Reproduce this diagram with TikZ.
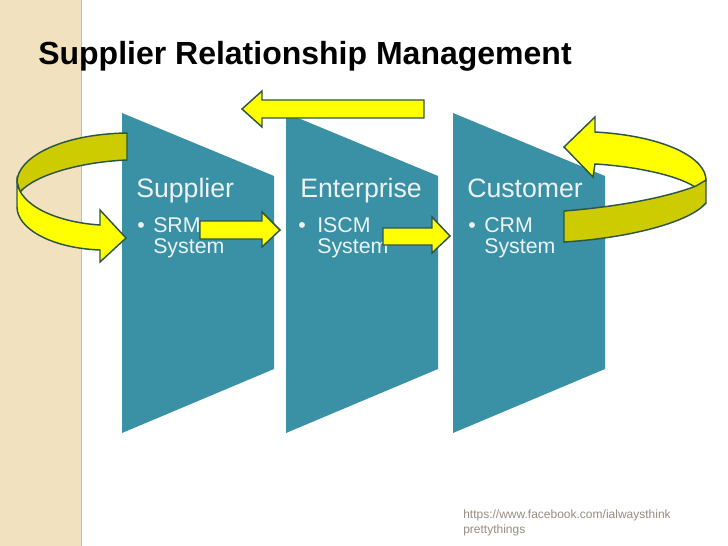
\documentclass[tikz,border=0pt]{standalone}
\usepackage{fontspec}
\setmainfont{Liberation Sans}
\usetikzlibrary{positioning}
\definecolor{strip}{RGB}{242,225,190}
\definecolor{stripedge}{RGB}{200,188,165}
\definecolor{panel}{RGB}{58,144,165}
\definecolor{paneltext}{RGB}{236,243,245}
\definecolor{arrowyellow}{RGB}{255,255,0}
\definecolor{arrowolive}{RGB}{204,204,0}
\definecolor{arrowline}{RGB}{47,85,70}
\definecolor{footgray}{RGB}{150,140,128}
\tikzstyle{head}=[anchor=base west,inner sep=0pt,text=paneltext,font=\fontsize{20}{24}\selectfont]
\tikzstyle{item}=[anchor=base west,inner sep=0pt,text=paneltext,font=\fontsize{16}{19}\selectfont]
\tikzstyle{foot}=[anchor=base west,inner sep=0pt,text=footgray,font=\fontsize{9}{11}\selectfont]
\tikzstyle{blockarrow}=[fill=arrowyellow,draw=arrowline,line width=1.1pt,line join=miter]
\tikzstyle{backband}=[blockarrow,fill=arrowolive]

\begin{document}
\begin{tikzpicture}[
        x=0.75pt,
        y=-0.75pt
        ]
        \useasboundingbox (0,0) rectangle (728,546);
        % beige strip on the left
        \fill[strip] (0,0) rectangle (81,546);
        \draw[stripedge,line width=1pt] (81.5,0) -- (81.5,546);

        \node[anchor=base west,inner sep=0pt,font=\fontsize{24}{28}\selectfont\bfseries] (title) at (38,64) {Supplier Relationship Management};

        % the three panels
        \foreach \x in {122,286,453}
            \fill[panel] (\x,113) -- ++(152,63) -- ++(0,193) -- ++(-152,64) -- cycle;

        \node[head] (sup) at (136,197) {Supplier};
        \node[item] (supdot) at (137,232) {•};
        \node[item] (srm) at (153,232) {SRM};
        \node[item] (srmsys) at (153,253) {System};

        \node[head] (ent) at (300,197) {Enterprise};
        \node[item] (entdot) at (298,232) {•};
        \node[item] (iscm) at (317,232) {ISCM};
        \node[item] (iscmsys) at (317,253) {System};

        \node[head] (cus) at (467,197) {Customer};
        \node[item] (cusdot) at (468,232) {•};
        \node[item] (crm) at (484,232) {CRM};
        \node[item] (crmsys) at (484,253) {System};

        \node[foot] (url) at (463,518) {https://www.facebook.com/ialwaysthink};
        \node[foot] (url2) at (463,533) {prettythings};

        % straight arrows
        \draw[blockarrow] (424,100) -- (262,100) -- (262,91) -- (242,109) -- (262,127) -- (262,118) -- (424,118) -- cycle;
        \draw[blockarrow] (200,221) -- (262,221) -- (262,212) -- (280,230) -- (262,247) -- (262,239) -- (200,239) -- cycle;
        \draw[blockarrow] (383,228) -- (432,228) -- (432,217) -- (450,236) -- (432,253) -- (432,245) -- (383,245) -- cycle;

        % left ring
        \draw[backband] (127,133) .. controls (60,134) and (17,158) .. (17,182)
            -- (20,192) .. controls (35,175) and (80,162) .. (127,160) -- cycle;
        \draw[blockarrow] (17,182) .. controls (20,205) and (55,222) .. (100,225)
            -- (100,210) -- (126,238) -- (100,262) -- (100,250)
            .. controls (50,248) and (17,228) .. (17,207) -- cycle;

        % right ring
        \draw[blockarrow] (595,117) -- (595,132) .. controls (665,136) and (707,158) .. (706,181)
            -- (695,187) .. controls (675,174) and (630,166) .. (595,164)
            -- (593,177) -- (564,147) -- cycle;
        \draw[backband] (564,211) .. controls (615,207) and (665,198) .. (696,186)
            -- (706,180) -- (706,203) .. controls (690,222) and (630,238) .. (564,242) -- cycle;
    \end{tikzpicture}
\end{document}
